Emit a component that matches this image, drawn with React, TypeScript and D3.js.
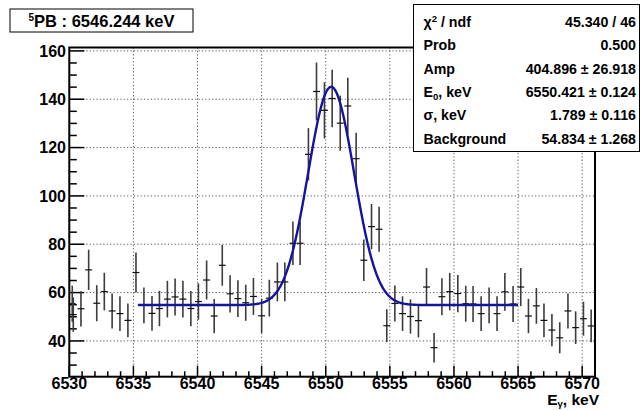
import React from "react";
import * as d3 from "d3";

const energies = [
  6530.23, 6530.31, 6530.91, 6531.51, 6532.14, 6532.73, 6533.34, 6533.95, 6534.57, 6535.2,
  6535.82, 6536.45, 6537.03, 6537.65, 6538.25, 6538.86, 6539.48, 6540.07, 6540.71, 6541.3,
  6541.93, 6542.54, 6543.15, 6543.76, 6544.36, 6545.0, 6545.6, 6546.23, 6546.81, 6547.44,
  6548.0, 6548.65, 6549.28, 6549.9, 6550.5, 6551.13, 6551.72, 6552.37, 6552.97, 6553.57,
  6554.16, 6554.76, 6555.39, 6555.99, 6556.61, 6557.23, 6557.86, 6558.45, 6559.06, 6559.67,
  6560.3, 6560.92, 6561.49, 6562.12, 6562.74, 6563.36, 6563.97, 6564.61, 6565.21, 6565.81,
  6566.43, 6567.02, 6567.64, 6568.25, 6568.89, 6569.49, 6570.1, 6570.7,
];

const counts = [
  55.4, 50.9, 53.3, 69.4, 55.6, 60.4, 52.4, 51.3, 48.5, 68.3,
  54.7, 51.4, 53.4, 57.3, 58.2, 57.3, 53.4, 56.3, 65.2, 50.3,
  71.3, 59.5, 57.5, 55.8, 58.4, 50.4, 57.7, 64.4, 64.4, 80.4,
  80.4, 117.2, 143.2, 135.4, 140.3, 130.1, 137.2, 115.4, 73.4, 87.3,
  86.2, 46.3, 55.5, 51.3, 50.1, 48.4, 62.3, 37.2, 58.3, 60.4,
  59.6, 55.4, 55.3, 51.3, 54.7, 51.3, 60.3, 55.3, 62.3, 50.3,
  54.5, 48.5, 44.5, 41.3, 52.4, 45.5, 49.2, 46.2,
];

const xTicks = [6530, 6535, 6540, 6545, 6550, 6555, 6560, 6565, 6570];
const yTicks = [40, 60, 80, 100, 120, 140, 160];

const statLabels = ["χ2 / ndf", "Prob", "Amp", "E0, keV", "σ, keV", "Background"];
const statValues = ["45.340 / 46", "0.500", "404.896 ± 26.918", "6550.421 ± 0.124", "1.789 ± 0.116", "54.834 ± 1.268"];

const fitAmp = 404.896;
const fitE0 = 6550.421;
const fitSigma = 1.789;
const fitBg = 54.834;
const fitRange = [6535.35, 6565.0];

const binHalf = 0.27;

const FONT = "'Liberation Sans', Arial, Helvetica, sans-serif";

export default function App() {
  const W = 641, H = 410;
  const L = 69.3, R = 595, T = 47.5, B = 376.7;
  const x = d3.scaleLinear().domain([6530, 6571]).range([L, R]);
  const y = d3.scaleLinear().domain([25.2, 161.4]).range([B, T]);

  const fit = (e: number) =>
    fitBg + (fitAmp / (fitSigma * Math.sqrt(2 * Math.PI))) * Math.exp(-((e - fitE0) ** 2) / (2 * fitSigma * fitSigma));
  const fitPts = d3.range(0, 401).map((i) => {
    const e = fitRange[0] + ((fitRange[1] - fitRange[0]) * i) / 400;
    return [e, fit(e)] as [number, number];
  });
  const line = d3.line<[number, number]>().x((d) => x(d[0])).y((d) => y(d[1]));

  const xMinor = d3.range(6530, 6572, 1);
  const yMinor = d3.range(30, 161, 5);

  const renderStatLabel = (s: string) => {
    if (s.startsWith("χ2")) return (<><tspan>χ</tspan><tspan dy={-5} fontSize={9.5}>2</tspan><tspan dy={5}> / ndf</tspan></>);
    if (s.startsWith("E0")) return (<><tspan>E</tspan><tspan dy={3} fontSize={9.5}>0</tspan><tspan dy={-3}>, keV</tspan></>);
    return s;
  };

  return (
    <div style={{ position: "fixed", left: 0, top: 0 }}>
      <svg width={W} height={H} style={{ display: "block", background: "#fff" }} fontFamily={FONT}>
        <rect x={0} y={0} width={W} height={H} fill="#fff" />
        {/* grid */}
        {xTicks.map((t) => (
          <line key={"gx" + t} x1={x(t)} x2={x(t)} y1={T} y2={B} stroke="#555" strokeWidth={1} strokeDasharray="1.2,2.2" />
        ))}
        {yTicks.map((t) => (
          <line key={"gy" + t} x1={L} x2={R} y1={y(t)} y2={y(t)} stroke="#555" strokeWidth={1} strokeDasharray="1.2,2.2" />
        ))}
        {/* minor ticks */}
        {xMinor.map((t) => (
          <line key={"mx" + t} x1={x(t)} x2={x(t)} y1={B} y2={B - (t % 5 === 0 ? 11 : 5.5)} stroke="#000" strokeWidth={1.5} />
        ))}
        {yMinor.map((t) => (
          <line key={"my" + t} x1={L} x2={L + (t % 20 === 0 ? 15 : 7.5)} y1={y(t)} y2={y(t)} stroke="#000" strokeWidth={1.5} />
        ))}
        {/* data */}
        {energies.map((e, i) => {
          const c = counts[i];
          const err = Math.sqrt(c);
          return (
            <g key={"p" + i}>
              <line x1={x(e)} x2={x(e)} y1={y(c - err)} y2={y(c + err)} stroke="#3c3c3c" strokeWidth={1.6} />
              <line x1={x(e - binHalf)} x2={x(e + binHalf)} y1={y(c)} y2={y(c)} stroke="#111" strokeWidth={1.2} />
            </g>
          );
        })}
        {/* fit */}
        <path d={line(fitPts) || ""} fill="none" stroke="#1414a0" strokeWidth={2.4} />
        {/* frame */}
        <rect x={L} y={T} width={R - L} height={B - T} fill="none" stroke="#000" strokeWidth={2} />
        {/* tick labels */}
        {xTicks.map((t) => (
          <text key={"lx" + t} x={x(t)} y={389} textAnchor="middle" fontSize={16} fontWeight="bold">{t}</text>
        ))}
        {yTicks.map((t) => (
          <text key={"ly" + t} x={66} y={y(t) + 5.8} textAnchor="end" fontSize={16} fontWeight="bold">{t}</text>
        ))}
        <text x={599} y={405} textAnchor="end" fontSize={15.5} fontWeight="bold">
          <tspan>E</tspan><tspan dy={2} fontSize={9.5}>γ</tspan><tspan dy={-2}>, keV</tspan>
        </text>
        {/* title box */}
        <rect x={10} y={9} width={183} height={23} fill="#fff" stroke="#000" strokeWidth={1} />
        <text x={101.5} y={27} textAnchor="middle" fontSize={16.5} fontWeight="bold">
          <tspan dy={-6} fontSize={10}>5</tspan><tspan dy={6}>PB : 6546.244 keV</tspan>
        </text>
        {/* stats box */}
        <rect x={413.5} y={4.5} width={226} height={147} fill="#fff" stroke="#000" strokeWidth={1} />
        {statLabels.map((s, i) => (
          <text key={"sl" + i} x={423.5} y={27 + i * 23.3} fontSize={14.2} fontWeight="bold">{renderStatLabel(s)}</text>
        ))}
        {statValues.map((s, i) => (
          <text key={"sv" + i} x={636} y={27 + i * 23.3} textAnchor="end" fontSize={14.2} fontWeight="bold">{s}</text>
        ))}
      </svg>
    </div>
  );
}
